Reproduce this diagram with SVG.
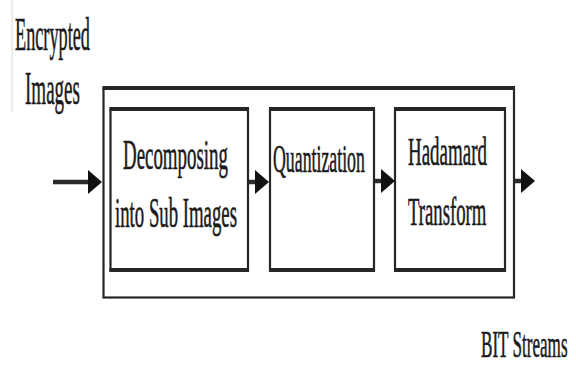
<svg xmlns="http://www.w3.org/2000/svg" width="576" height="374" viewBox="0 0 576 374">
  <style>
    .box { fill: none; stroke: #262626; stroke-width: 2.2; }
    .edge { stroke: #262626; stroke-width: 4; }
    .lbl { font-family: "Liberation Serif", "Times New Roman", serif; fill: #1a1a1a; stroke: #1a1a1a; stroke-width: 0.6; }
    .flow { stroke: #2b2b2b; stroke-width: 4.5; fill: none; }
  </style>
  <defs>
    <marker id="head" markerUnits="userSpaceOnUse" markerWidth="15" markerHeight="24" refX="3" refY="12" orient="auto">
      <path d="M0,0 L14,12 L0,24 z" fill="#111"/>
    </marker>
  </defs>
  <rect width="576" height="374" fill="#ffffff"/>

  <!-- faint rule at the left margin -->
  <line x1="12" y1="0" x2="12" y2="112" stroke="#dcdcdc" stroke-width="1"/>

  <!-- input label (condensed serif) -->
  <g id="input-label">
    <text class="lbl" transform="translate(15,50) scale(0.388,1)" font-size="47">Encrypted</text>
    <text class="lbl" transform="translate(25,104) scale(0.405,1)" font-size="47">Images</text>
  </g>

  <!-- enclosing system block -->
  <g id="system">
    <rect class="box" x="103.5" y="88.5" width="410.5" height="209"/>
    <line class="edge" x1="102.5" y1="88" x2="515" y2="88"/>
  </g>

  <g id="decompose">
    <rect class="box" x="110.5" y="109.5" width="137.5" height="161"/>
    <line class="edge" x1="109.5" y1="109" x2="249" y2="109"/>
    <line class="edge" x1="109.5" y1="270" x2="249" y2="270"/>
    <text class="lbl" transform="translate(123,169) scale(0.45,1)" font-size="42">Decomposing</text>
    <text class="lbl" transform="translate(115,227) scale(0.447,1)" font-size="42">into Sub Images</text>
  </g>

  <g id="quantize">
    <rect class="box" x="270" y="109.5" width="104" height="161"/>
    <line class="edge" x1="269" y1="109" x2="375" y2="109"/>
    <line class="edge" x1="269" y1="270" x2="375" y2="270"/>
    <text class="lbl" transform="translate(273,172) scale(0.445,1)" font-size="40">Quantization</text>
  </g>

  <g id="hadamard">
    <rect class="box" x="395" y="109.5" width="110" height="161"/>
    <line class="edge" x1="394" y1="109" x2="506" y2="109"/>
    <line class="edge" x1="394" y1="270" x2="506" y2="270"/>
    <text class="lbl" transform="translate(408,165) scale(0.474,1)" font-size="40">Hadamard</text>
    <text class="lbl" transform="translate(408,225) scale(0.468,1)" font-size="40">Transform</text>
  </g>

  <g id="output-label">
    <text class="lbl" transform="translate(481,357) scale(0.45,1)" font-size="38">BIT Streams</text>
  </g>

  <!-- data flow -->
  <g id="connectors">
    <line class="flow" x1="53" y1="182" x2="91" y2="182" marker-end="url(#head)"/>
    <line class="flow" x1="249" y1="182" x2="258" y2="182" marker-end="url(#head)"/>
    <line class="flow" x1="375" y1="181" x2="384" y2="181" marker-end="url(#head)"/>
    <line class="flow" x1="515" y1="181" x2="524" y2="181" marker-end="url(#head)"/>
  </g>
</svg>
